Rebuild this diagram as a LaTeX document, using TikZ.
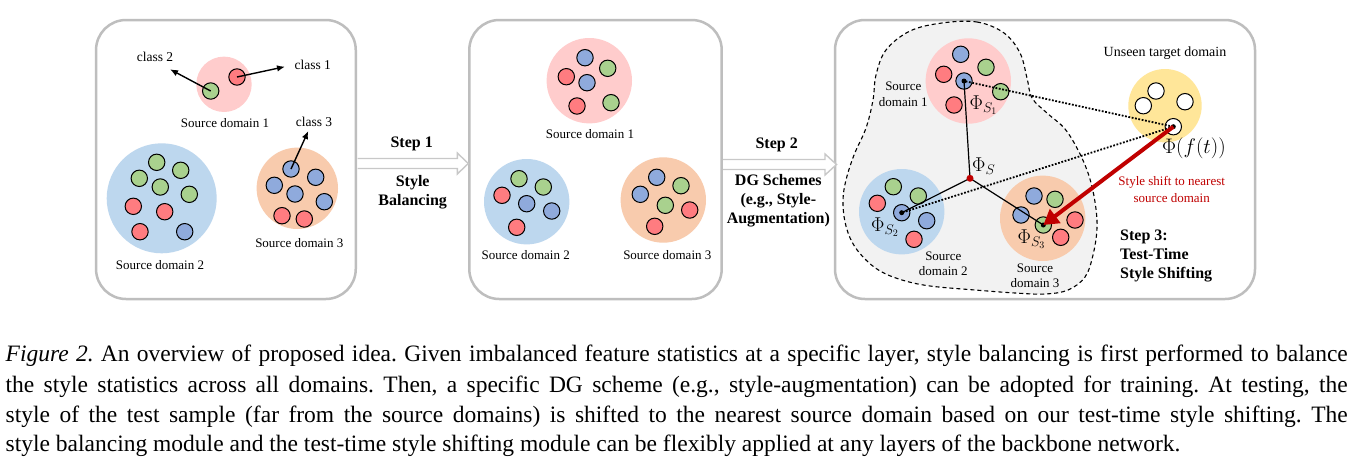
\RequirePackage{fix-cm}
\documentclass[tikz,border=0pt]{standalone}
\usepackage{fontspec}
\setmainfont{Liberation Serif}
\usetikzlibrary{arrows.meta,calc}
\frenchspacing
\definecolor{cpink}{RGB}{255,204,204}
\definecolor{cblue}{RGB}{189,215,238}
\definecolor{cpeach}{RGB}{248,203,173}
\definecolor{cyell}{RGB}{255,230,153}
\definecolor{cg}{RGB}{169,209,142}
\definecolor{cr}{RGB}{255,124,128}
\definecolor{cb}{RGB}{143,170,220}
\definecolor{cpanel}{RGB}{190,190,190}
\definecolor{carrow}{RGB}{200,200,200}
\definecolor{cblob}{RGB}{242,242,242}
\definecolor{cred}{RGB}{192,0,0}
\tikzset{
  panel/.style={draw=cpanel, line width=2.5pt, rounded corners=30pt, inner sep=0},
  dom/.style={circle, inner sep=0, draw=none},
  sc/.style={circle, draw=black, line width=1pt, minimum size=16.4pt, inner sep=0},
  harrow/.style={draw=carrow, line width=1.4pt, fill=white, line join=miter},
  barrow/.style={line width=1.4pt, -{Latex[length=8pt,width=6.5pt]}},
  rarrow/.style={draw=cred, line width=4pt, -{Triangle[length=15pt,width=17pt]}},
  dline/.style={line width=1.8pt, dash pattern=on 1.8pt off 1.6pt},
  cline/.style={line width=1.2pt},
  bdot/.style={circle, fill=black, inner sep=0, minimum size=5pt},
  rdot/.style={circle, fill=cred, inner sep=0, minimum size=7pt},
  blob/.style={fill=cblob, draw=black, line width=1.1pt, dash pattern=on 4pt off 3pt},
  lbl/.style={font=\fontsize{13}{15}\selectfont, inner sep=0, anchor=base},
  cls/.style={font=\fontsize{13.5}{15}\selectfont, inner sep=0, anchor=base},
  stp/.style={font=\fontsize{16}{19}\selectfont\bfseries, inner sep=0, anchor=base},
  stpl/.style={font=\fontsize{16}{19}\selectfont\bfseries, inner sep=0, anchor=base west},
  phil/.style={font=\fontsize{20}{22}\selectfont, inner sep=0, anchor=base west},
  rtxt/.style={font=\fontsize{13}{15}\selectfont, text=cred, inner sep=0, anchor=base},
  captxt/.style={font=\fontsize{23.5}{29.9}\selectfont, inner sep=0, anchor=base west},
}
\begin{document}
\begin{tikzpicture}[x=1pt,y=-1pt]
\useasboundingbox[fill=white] (0,0) rectangle (1356,463);

% panels
\node[panel, minimum width=259.7pt, minimum height=279pt] (p1) at (225.9,159.5) {};
\node[panel, minimum width=252.4pt, minimum height=279pt] (p2) at (595.5,159.5) {};
\node[panel, minimum width=420pt, minimum height=279pt] (p3) at (1045,159.5) {};

% hollow arrows
\coordinate (h1s) at (357.5,163.5);
\coordinate (h1e) at (468.3,163.5);
\coordinate (h2s) at (723.2,164.5);
\coordinate (h2e) at (836.5,164.5);
\draw[harrow] ($(h1s)+(0,-5)$) -- ($(h1e)+(-11,-5)$) -- ($(h1e)+(-11,-10.5)$) -- (h1e) -- ($(h1e)+(-11,10.5)$) -- ($(h1e)+(-11,5)$) -- ($(h1s)+(0,5)$);
\draw[harrow] ($(h2s)+(0,-5)$) -- ($(h2e)+(-11.5,-5)$) -- ($(h2e)+(-11.5,-10.5)$) -- (h2e) -- ($(h2e)+(-11.5,10.5)$) -- ($(h2e)+(-11.5,5)$) -- ($(h2s)+(0,5)$);

% ---------- panel 1 ----------
\node[dom, fill=cpink, minimum size=55.4pt] (d11) at (224,84.3) {};
\node[dom, fill=cblue, minimum size=110pt] (d12) at (161.7,198.3) {};
\node[dom, fill=cpeach, minimum size=81.4pt] (d13) at (297.3,188.3) {};
\node[sc, fill=cg] (a1) at (210.7,91) {};
\node[sc, fill=cr] (a2) at (237,77) {};
\node[sc, fill=cg] (b1) at (156.7,162.3) {};
\node[sc, fill=cg] (b2) at (180.7,170.3) {};
\node[sc, fill=cg] (b3) at (139.3,178.3) {};
\node[sc, fill=cg] (b4) at (160.3,187) {};
\node[sc, fill=cg] (b5) at (189.3,194.3) {};
\node[sc, fill=cr] (b6) at (133.3,206.3) {};
\node[sc, fill=cr] (b7) at (164.7,211.7) {};
\node[sc, fill=cr] (b8) at (140,231.7) {};
\node[sc, fill=cb] (b9) at (184.7,231.7) {};
\node[sc, fill=cb] (e1) at (291,169) {};
\node[sc, fill=cb] (e2) at (315.7,177.3) {};
\node[sc, fill=cb] (e3) at (274.3,185.3) {};
\node[sc, fill=cb] (e4) at (295,194) {};
\node[sc, fill=cb] (e5) at (324.3,201.7) {};
\node[sc, fill=cr] (e6) at (282,215.7) {};
\node[sc, fill=cr] (e7) at (304.3,219) {};
\coordinate (c2end) at (170,69.3);
\coordinate (c1end) at (285,66.7);
\coordinate (c3end) at (308.3,131);
\draw[barrow] (a1.center) -- (c2end);
\draw[barrow] (a2.center) -- (c1end);
\draw[barrow] (e1.center) -- (c3end);
\node[cls] (tc2) at (155,61.7) {class 2};
\node[cls] (tc1) at (312.7,69) {class 1};
\node[cls] (tc3) at (314,126) {class 3};
\node[lbl] (l11) at (225,127.7) {Source domain 1};
\node[lbl] (l12) at (160,269) {Source domain 2};
\node[lbl] (l13) at (299.3,247.7) {Source domain 3};

% step 1 / step 2 labels
\node[stp] (s1a) at (411.7,147.7) {Step 1};
\node[stp] (s1b) at (412.7,186.7) {Style};
\node[stp] (s1c) at (412.7,205.7) {Balancing};
\node[stp] (s2a) at (776.7,148.3) {Step 2};
\node[stp] (s2b) at (778.3,185.7) {DG Schemes};
\node[stp] (s2c) at (778.3,204.3) {(e.g., Style-};
\node[stp] (s2d) at (778.3,223.3) {Augmentation)};

% ---------- panel 2 ----------
\node[dom, fill=cpink, minimum size=85.4pt] (d21) at (589.3,80.7) {};
\node[dom, fill=cblue, minimum size=85.4pt] (d22) at (526.7,201.7) {};
\node[dom, fill=cpeach, minimum size=85.4pt] (d23) at (663.3,200) {};
\node[sc, fill=cb] (f1) at (585,57.7) {};
\node[sc, fill=cg] (f2) at (607.7,68.3) {};
\node[sc, fill=cr] (f3) at (566.3,76.7) {};
\node[sc, fill=cb] (f4) at (587,82.7) {};
\node[sc, fill=cr] (f5) at (577,106) {};
\node[sc, fill=cg] (f6) at (611,102.7) {};
\node[sc, fill=cg] (g1) at (519,178.7) {};
\node[sc, fill=cg] (g2) at (543.3,187) {};
\node[sc, fill=cr] (g3) at (502,195.3) {};
\node[sc, fill=cb] (g4) at (526.7,203.7) {};
\node[sc, fill=cb] (g5) at (551.7,211) {};
\node[sc, fill=cr] (g6) at (516.7,227.3) {};
\node[sc, fill=cb] (h1) at (656.7,177.3) {};
\node[sc, fill=cg] (h2) at (681,185.7) {};
\node[sc, fill=cb] (h3) at (640.3,194.3) {};
\node[sc, fill=cg] (h4) at (665.3,205.3) {};
\node[sc, fill=cr] (h5) at (689.7,210) {};
\node[sc, fill=cr] (h6) at (654.7,226.3) {};
\node[lbl] (l21) at (590,138.3) {Source domain 1};
\node[lbl] (l22) at (525.7,259.3) {Source domain 2};
\node[lbl] (l23) at (667.3,259.3) {Source domain 3};

% ---------- panel 3 ----------
\filldraw[blob] plot[smooth cycle, tension=0.6] coordinates {
 (942,23) (977,22) (1004,33) (1020,53) (1027,78) (1032,98) (1047,113) (1065,129)
 (1079,152) (1089,176) (1095,202) (1097,228) (1093,255) (1085,277) (1068,290)
 (1045,294) (1015,293) (975,290) (930,286) (902,280) (880,271) (864,258) (852,242)
 (845,222) (843,200) (846,180) (854,155) (866,128) (873,100) (876,75) (886,50) (910,31)};
\node[dom, fill=cpink, minimum size=85.4pt] (d31) at (968.3,81) {};
\node[dom, fill=cblue, minimum size=85.4pt] (d32) at (901.7,211.7) {};
\node[dom, fill=cpeach, minimum size=85.4pt] (d33) at (1042.7,218.3) {};
\node[dom, fill=cyell, minimum size=73.4pt] (d34) at (1165,105.7) {};
\node[sc, fill=cb] (k1) at (960.7,54.3) {};
\node[sc, fill=cg] (k2) at (986,67.3) {};
\node[sc, fill=cr] (k3) at (943.7,74.3) {};
\node[sc, fill=cb] (s1ctr) at (964,81) {};
\node[sc, fill=cr] (k5) at (954,105) {};
\node[sc, fill=cg] (k6) at (1000.7,91.7) {};
\node[sc, fill=cg] (m1) at (893.3,186.7) {};
\node[sc, fill=cg] (m2) at (918.3,196) {};
\node[sc, fill=cr] (m3) at (877.3,203.3) {};
\node[sc, fill=cb] (s2ctr) at (901.7,212.7) {};
\node[sc, fill=cb] (m5) at (926.7,220.7) {};
\node[sc, fill=cr] (m6) at (914,239.3) {};
\node[sc, fill=cb] (n1) at (1034,196) {};
\node[sc, fill=cg] (n2) at (1055,199.3) {};
\node[sc, fill=cb] (n3) at (1021,215) {};
\node[sc, fill=cg] (s3ctr) at (1043.3,225) {};
\node[sc, fill=cr] (n5) at (1075,220) {};
\node[sc, fill=cr] (n6) at (1060.7,237.3) {};
\node[sc, fill=white] (t1) at (1156,91) {};
\node[sc, fill=white] (t2) at (1185,101.7) {};
\node[sc, fill=white] (t3) at (1143.3,105.7) {};
\node[sc, fill=white] (tctr) at (1173.3,126.7) {};
\coordinate (phis) at (970,178.3);
\draw[cline] (phis) -- (s1ctr.center);
\draw[cline] (phis) -- (s2ctr.center);
\draw[cline] (phis) -- (s3ctr.center);
\draw[dline] (tctr.center) -- (s1ctr.center);
\draw[dline] (tctr.center) -- (s2ctr.center);
\node[bdot] (dt1) at (s1ctr.center) {};
\node[bdot] (dt2) at (s2ctr.center) {};
\node[bdot] (dt3) at (s3ctr.center) {};
\node[bdot] (dt4) at (tctr.center) {};
\node[rdot] (rd) at (phis) {};
\draw[rarrow] (tctr.center) -- (s3ctr.center);
\node[lbl] (u1) at (1165,56.7) {\fontsize{14}{16}\selectfont Unseen target domain};
\node[lbl] (q1) at (903.3,90) {Source};
\node[lbl] (q2) at (903.3,106) {domain 1};
\node[lbl] (q3) at (943.3,260) {Source};
\node[lbl] (q4) at (943.3,275) {domain 2};
\node[lbl] (q5) at (1035,272.3) {Source};
\node[lbl] (q6) at (1035,287.3) {domain 3};
\node[rtxt] (r1) at (1171.7,185.7) {Style shift to nearest};
\node[rtxt] (r2) at (1171.7,202.3) {source domain};
\node[stpl] (s3a) at (1120,240) {Step 3:};
\node[stpl] (s3b) at (1120,259) {Test-Time};
\node[stpl] (s3c) at (1120,278.3) {Style Shifting};
\node[phil] (ph1) at (969.5,109.3) {$\Phi_{S_1}$};
\node[phil] (ph0) at (972,171.7) {$\Phi_{S}$};
\node[phil] (ph2) at (871,231.7) {$\Phi_{S_2}$};
\node[phil] (ph3) at (1017.5,243.3) {$\Phi_{S_3}$};
\node[phil] (ph4) at (1162,153.3) {\fontsize{21}{23}\selectfont$\Phi(f(t))$};

% ---------- caption ----------
\node[captxt] (cap1) at (5.5,361.7) {\makebox[1342pt][s]{\textit{Figure 2.} An overview of proposed idea. Given imbalanced feature statistics at a specific layer, style balancing is first performed to balance}};
\node[captxt] (cap2) at (5.5,392) {\makebox[1342pt][s]{the style statistics across all domains. Then, a specific DG scheme (e.g., style-augmentation) can be adopted for training. At testing, the}};
\node[captxt] (cap3) at (5.5,422) {\makebox[1342pt][s]{style of the test sample (far from the source domains) is shifted to the nearest source domain based on our test-time style shifting. The}};
\node[captxt] (cap4) at (5.5,451.5) {style balancing module and the test-time style shifting module can be flexibly applied at any layers of the backbone network.};
\end{tikzpicture}
\end{document}
